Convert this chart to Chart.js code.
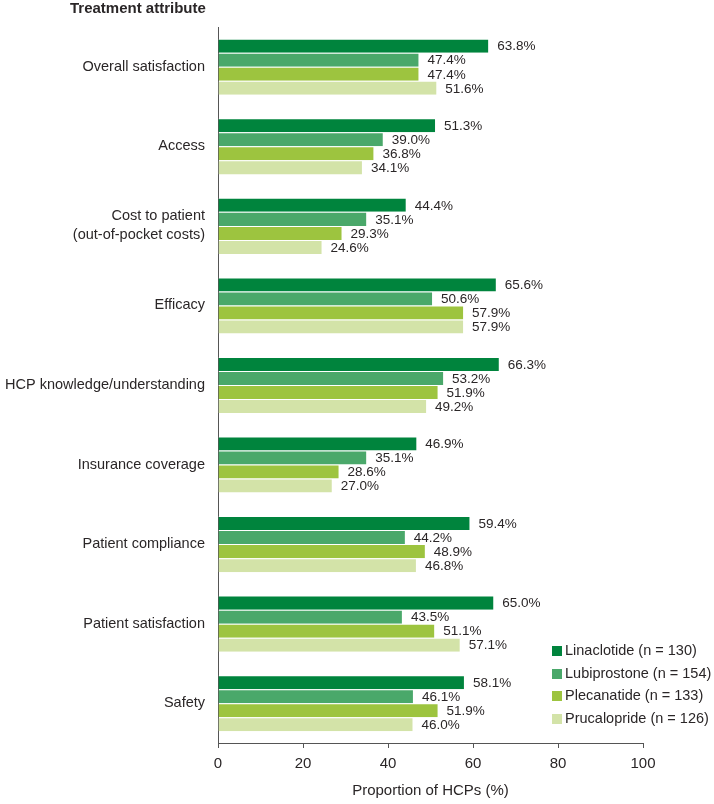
<!DOCTYPE html>
<html>
<head>
<meta charset="utf-8">
<script src="https://cdn.jsdelivr.net/npm/chart.js@4"></script>
<style>
  html, body { margin: 0; padding: 0; background: #fff; }
  #wrap { position: relative; width: 714px; height: 804px; }
</style>
</head>
<body>
<div id="wrap"><canvas id="chart" width="714" height="804"></canvas></div>
<script>
// Категории (атрибуты лечения)
const categories = [
    'Overall satisfaction',
    'Access',
    ['Cost to patient', '(out-of-pocket costs)'],
    'Efficacy',
    'HCP knowledge/understanding',
    'Insurance coverage',
    'Patient compliance',
    'Patient satisfaction',
    'Safety'
];

// Значения серий (%)
const linaclotide  = [63.8, 51.3, 44.4, 65.6, 66.3, 46.9, 59.4, 65.0, 58.1];
const lubiprostone = [47.4, 39.0, 35.1, 50.6, 53.2, 35.1, 44.2, 43.5, 46.1];
const plecanatide  = [47.4, 36.8, 29.3, 57.9, 51.9, 28.6, 48.9, 51.1, 51.9];
const prucalopride = [51.6, 34.1, 24.6, 57.9, 49.2, 27.0, 46.8, 57.1, 46.0];

const seriesNames = ['Linaclotide (n = 130)', 'Lubiprostone (n = 154)', 'Plecanatide (n = 133)', 'Prucalopride (n = 126)'];
const seriesColors = ['#00843d', '#4aa86a', '#9dc43f', '#d3e3a8'];

const xTicks = [0, 20, 40, 60, 80, 100];

const FONT = '"Liberation Sans", Arial, sans-serif';
const TEXT = '#2a2627';

// Подписи значений справа от столбцов
const valueLabels = {
    id: 'valueLabels',
    afterDatasetsDraw(chart) {
        const ctx = chart.ctx;
        ctx.save();
        ctx.font = '13.5px ' + FONT;
        ctx.fillStyle = TEXT;
        ctx.textAlign = 'left';
        ctx.textBaseline = 'middle';
        chart.data.datasets.forEach((ds, i) => {
            chart.getDatasetMeta(i).data.forEach((bar, j) => {
                ctx.fillText(ds.data[j].toFixed(1) + '%', bar.x + 8, bar.y + 1);
            });
        });
        ctx.restore();
    }
};

// Заголовок оси Y и легенда
const extras = {
    id: 'extras',
    afterDraw(chart) {
        const ctx = chart.ctx;
        ctx.save();
        ctx.fillStyle = TEXT;
        ctx.font = 'bold 15px ' + FONT;
        ctx.textAlign = 'left';
        ctx.textBaseline = 'middle';
        ctx.fillText('Treatment attribute', 70, 9);

        ctx.font = '14.5px ' + FONT;
        chart.data.datasets.forEach((ds, i) => {
            const y = 651 + i * 22.5;
            ctx.fillStyle = ds.backgroundColor;
            ctx.fillRect(552, Math.round(y - 5), 10, 10);
            ctx.fillStyle = TEXT;
            ctx.fillText(ds.label, 565, y);
        });
        ctx.restore();
    }
};

const datasets = [linaclotide, lubiprostone, plecanatide, prucalopride].map((data, i) => ({
    label: seriesNames[i],
    data: data,
    backgroundColor: seriesColors[i],
    borderColor: 'rgba(255,255,255,0.6)',
    borderWidth: { top: 1, bottom: 0, left: 0, right: 1 },
    borderSkipped: false,
    barPercentage: 1.0,
    categoryPercentage: 0.705
}));

new Chart(document.getElementById('chart'), {
    type: 'bar',
    data: { labels: categories, datasets: datasets },
    options: {
        indexAxis: 'y',
        responsive: false,
        animation: false,
        layout: { padding: { top: 27, right: 71, bottom: 0, left: 0 } },
        plugins: {
            legend: { display: false },
            tooltip: { enabled: false }
        },
        scales: {
            x: {
                min: 0,
                max: 100,
                afterBuildTicks: s => { s.ticks = xTicks.map(v => ({ value: v })); },
                grid: {
                    display: true,
                    drawOnChartArea: false,
                    drawTicks: true,
                    tickLength: 5,
                    color: '#555'
                },
                border: { display: true, color: '#555', width: 1 },
                ticks: { color: TEXT, font: { size: 15, family: FONT }, padding: 7 },
                title: {
                    display: true,
                    text: 'Proportion of HCPs (%)',
                    color: TEXT,
                    font: { size: 15, family: FONT },
                    padding: { top: 5 }
                },
                afterFit: s => { s.height = 61; }
            },
            y: {
                grid: { display: false, drawTicks: false },
                border: { display: true, color: '#555', width: 1 },
                ticks: { color: TEXT, font: { size: 14.5, family: FONT, lineHeight: 1.3 }, padding: 13 },
                afterFit: s => { s.width = 218; }
            }
        }
    },
    plugins: [valueLabels, extras]
});
</script>
</body>
</html>
